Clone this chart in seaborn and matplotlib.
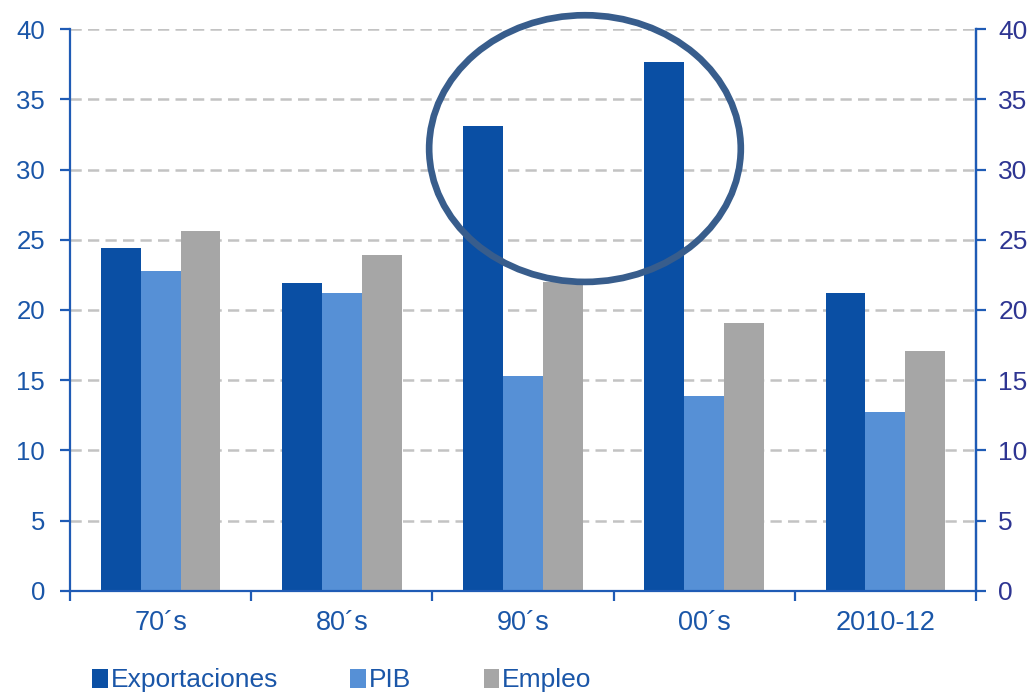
import numpy as np
import pandas as pd
import matplotlib
matplotlib.use("Agg")
import matplotlib.pyplot as plt
from matplotlib.patches import Ellipse, Patch
from matplotlib.ticker import FixedLocator
import seaborn as sns

# Average growth contributions by decade
periods = ["70\u00b4s", "80\u00b4s", "90\u00b4s", "00\u00b4s", "2010-12"]
exportaciones = [24.4, 21.9, 33.1, 37.7, 21.2]
pib = [22.8, 21.2, 15.3, 13.9, 12.7]
empleo = [25.6, 23.9, 22.0, 19.1, 17.1]
series_names = ["Exportaciones", "PIB", "Empleo"]
y_ticks = [0, 5, 10, 15, 20, 25, 30, 35, 40]

df = pd.DataFrame({
    "periodo": periods * 3,
    "serie": [series_names[0]] * 5 + [series_names[1]] * 5 + [series_names[2]] * 5,
    "valor": exportaciones + pib + empleo,
})

palette = {"Exportaciones": "#0A4FA4", "PIB": "#5690D6", "Empleo": "#A6A6A6"}
axis_blue = "#1F5BB5"
label_blue = "#1A56A8"
right_label = "#2E3592"
grid_gray = "#C3C3C3"

sns.set_theme(style="white")
plt.rcParams["font.family"] = ["Liberation Sans", "DejaVu Sans"]

fig = plt.figure(figsize=(10.33, 6.92), dpi=100)
ax = fig.add_axes([0.0678, 0.1464, 0.8770, 0.8113])

sns.barplot(data=df, x="periodo", y="valor", hue="serie", order=periods,
            hue_order=series_names, palette=palette, width=0.66, gap=0,
            linewidth=0, saturation=1, ax=ax, legend=False, zorder=3)

ax.set_xlim(-0.5, 4.5)
ax.set_ylim(0, 40)
ax.set_yticks(y_ticks)
ax.set_xlabel("")
ax.set_ylabel("")

# dashed horizontal grid
for v in y_ticks[1:]:
    ax.axhline(v, color=grid_gray, lw=1.8, ls=(0, (4.5, 2.5)), zorder=1)

for side in ["left", "bottom", "right"]:
    ax.spines[side].set_visible(True)
    ax.spines[side].set_color(axis_blue)
    ax.spines[side].set_linewidth(1.6)
    ax.spines[side].set_zorder(5)
ax.spines["top"].set_visible(False)

# category labels centred, tick marks at group boundaries
ax.set_xticks(range(len(periods)))
ax.set_xticklabels(periods)
ax.xaxis.set_minor_locator(FixedLocator(np.arange(-0.5, 5.0, 1.0)))
ax.tick_params(axis="x", which="major", length=0, pad=14, labelsize=19.5,
               labelcolor=label_blue)
ax.tick_params(axis="x", which="minor", length=7, width=1.6, color=axis_blue,
               direction="out", bottom=True)
ax.tick_params(axis="y", which="major", length=7, width=1.6, color=axis_blue,
               direction="out", left=True, pad=11, labelsize=18.5,
               labelcolor=label_blue)

ax2 = ax.twinx()
ax2.set_ylim(0, 40)
ax2.set_yticks(y_ticks)
for side in ["left", "bottom", "top"]:
    ax2.spines[side].set_visible(False)
ax2.spines["right"].set_color(axis_blue)
ax2.spines["right"].set_linewidth(1.6)
ax2.tick_params(axis="y", length=7, width=1.6, color=axis_blue,
                direction="out", right=True, pad=9, labelsize=19,
                labelcolor=right_label)
ax2.grid(False)

# highlight ring around the 90s and 00s export bars
ring = Ellipse((2.342, 31.5), width=1.72, height=19.0, fill=False,
               edgecolor="#385D8C", linewidth=4.8, zorder=6, clip_on=False)
ax.add_patch(ring)

handles = [Patch(facecolor=palette[n], edgecolor="none") for n in series_names]
fig.legend(handles, series_names, loc="lower left",
           bbox_to_anchor=(0.066, -0.035), ncol=3, frameon=False,
           fontsize=19, handlelength=0.6, handleheight=0.75,
           handletextpad=0.1, columnspacing=2.75, labelcolor=label_blue)

fig.savefig("out.png", dpi=100)
